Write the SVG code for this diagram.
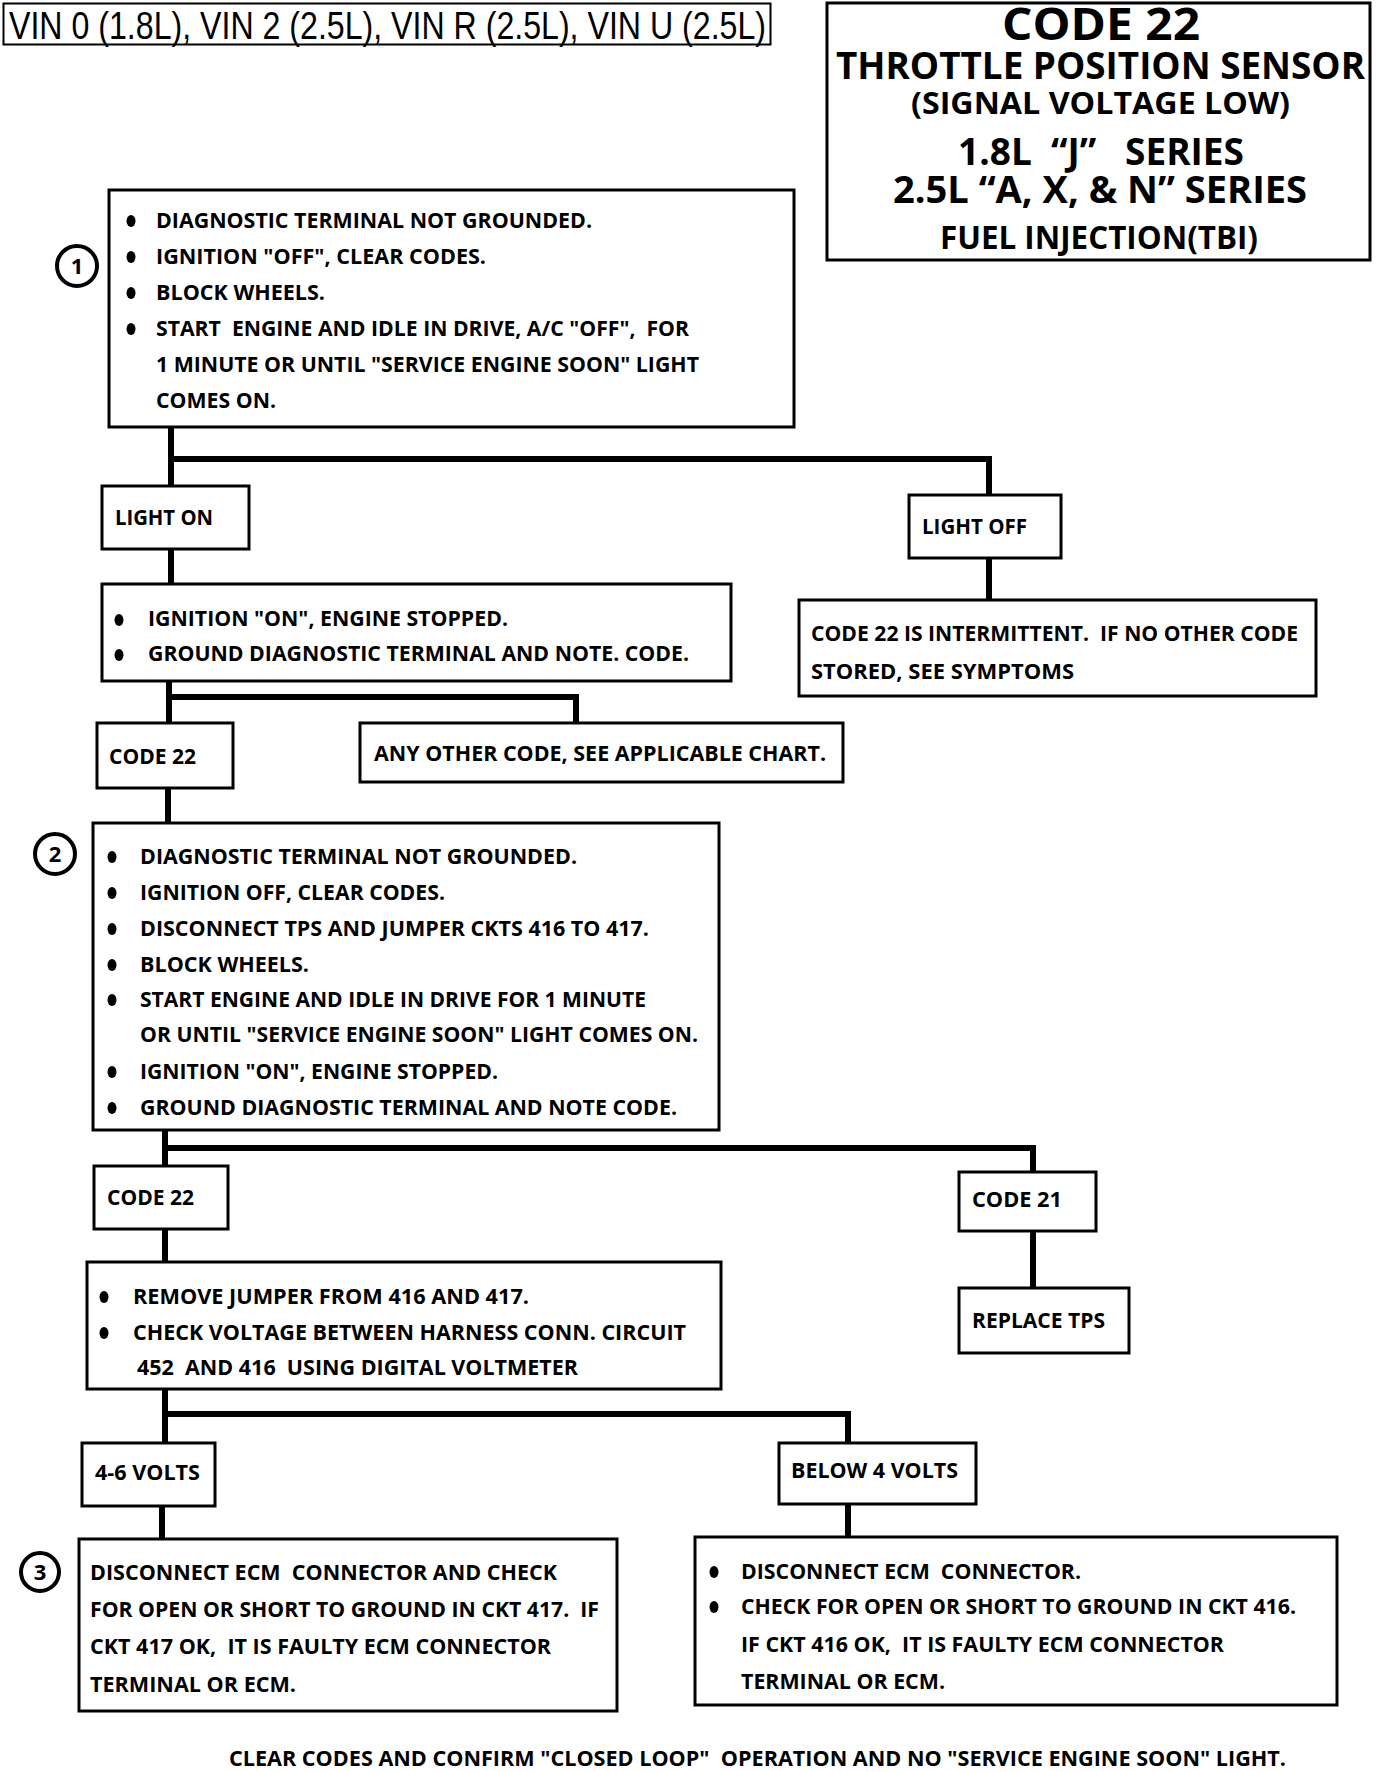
<svg xmlns="http://www.w3.org/2000/svg" width="1392" height="1772" viewBox="0 0 1392 1772">
<style>
.box{fill:#fff;stroke:#000;stroke-width:3}
.t{font-family:"Open Sans","DejaVu Sans",sans-serif;font-weight:bold;font-size:22px;fill:#000;white-space:pre}
.h{font-family:"Open Sans","DejaVu Sans",sans-serif;font-weight:bold;fill:#000;white-space:pre}
.vin{font-family:"Liberation Sans",Arial,sans-serif;font-size:39px;fill:#000}
.conn{stroke:#000;stroke-width:6;fill:none;stroke-linecap:square}
.dot{fill:#000}
.num{fill:#fff;stroke:#000;stroke-width:4}
</style>
<rect width="1392" height="1772" fill="#fff"/>

<g id="connectors">
<path class="conn" d="M171 427 V486 M171 459 H989 V495"/>
<path class="conn" d="M171 549 V584 M989 558 V600"/>
<path class="conn" d="M169 681 V723 M169 697 H576 V723"/>
<path class="conn" d="M168 788 V823"/>
<path class="conn" d="M165 1130 V1166 M165 1148 H1033 V1172"/>
<path class="conn" d="M165 1229 V1262 M1033 1231 V1288"/>
<path class="conn" d="M165 1389 V1443 M165 1414 H848 V1443"/>
<path class="conn" d="M162 1506 V1539 M848 1504 V1537"/>
</g>

<g id="vin-header">
<rect x="3.5" y="3.5" width="767" height="41" fill="#fff" stroke="#000" stroke-width="2"/>
<text class="vin" x="9" y="39" textLength="757" lengthAdjust="spacingAndGlyphs">VIN 0 (1.8L), VIN 2 (2.5L), VIN R (2.5L), VIN U (2.5L)</text>
</g>

<g id="title">
<rect x="827" y="3" width="543" height="257" class="box"/>
<text class="h" x="1002" y="40" font-size="44" textLength="198" lengthAdjust="spacingAndGlyphs">CODE 22</text>
<text class="h" x="836" y="79" font-size="37" textLength="529" lengthAdjust="spacingAndGlyphs">THROTTLE POSITION SENSOR</text>
<text class="h" x="911" y="114" font-size="31" textLength="379" lengthAdjust="spacingAndGlyphs">(SIGNAL VOLTAGE LOW)</text>
<text class="h" x="958" y="165" font-size="37" textLength="286" lengthAdjust="spacingAndGlyphs">1.8L  “J”   SERIES</text>
<text class="h" x="893" y="203" font-size="37" textLength="414" lengthAdjust="spacingAndGlyphs">2.5L “A, X, &amp; N” SERIES</text>
<text class="h" x="940" y="249" font-size="33" textLength="318" lengthAdjust="spacingAndGlyphs">FUEL INJECTION(TBI)</text>
</g>

<g id="step1">
<circle class="num" cx="77" cy="266" r="20"/>
<text class="t" x="77" y="274" text-anchor="middle">1</text>
<rect x="109" y="190" width="685" height="237" class="box"/>
<ellipse class="dot" cx="131" cy="221" rx="4.5" ry="6"/>
<ellipse class="dot" cx="131" cy="257" rx="4.5" ry="6"/>
<ellipse class="dot" cx="131" cy="293" rx="4.5" ry="6"/>
<ellipse class="dot" cx="131" cy="329" rx="4.5" ry="6"/>
<text class="t" x="156" y="228" textLength="436" lengthAdjust="spacingAndGlyphs">DIAGNOSTIC TERMINAL NOT GROUNDED.</text>
<text class="t" x="156" y="264" textLength="330" lengthAdjust="spacingAndGlyphs">IGNITION "OFF", CLEAR CODES.</text>
<text class="t" x="156" y="300" textLength="169" lengthAdjust="spacingAndGlyphs">BLOCK WHEELS.</text>
<text class="t" x="156" y="336" textLength="533" lengthAdjust="spacingAndGlyphs">START  ENGINE AND IDLE IN DRIVE, A/C "OFF",  FOR</text>
<text class="t" x="156" y="372" textLength="543" lengthAdjust="spacingAndGlyphs">1 MINUTE OR UNTIL "SERVICE ENGINE SOON" LIGHT</text>
<text class="t" x="156" y="408" textLength="120" lengthAdjust="spacingAndGlyphs">COMES ON.</text>
</g>

<g id="light-on">
<rect x="102" y="486" width="147" height="63" class="box"/>
<text class="t" x="115" y="525" textLength="98" lengthAdjust="spacingAndGlyphs">LIGHT ON</text>
</g>

<g id="light-off">
<rect x="909" y="495" width="152" height="63" class="box"/>
<text class="t" x="922" y="534" textLength="105" lengthAdjust="spacingAndGlyphs">LIGHT OFF</text>
</g>

<g id="ignition-on">
<rect x="102" y="584" width="629" height="97" class="box"/>
<ellipse class="dot" cx="119" cy="620" rx="4.5" ry="6"/>
<ellipse class="dot" cx="119" cy="655" rx="4.5" ry="6"/>
<text class="t" x="148" y="626" textLength="360" lengthAdjust="spacingAndGlyphs">IGNITION "ON", ENGINE STOPPED.</text>
<text class="t" x="148" y="661" textLength="541" lengthAdjust="spacingAndGlyphs">GROUND DIAGNOSTIC TERMINAL AND NOTE. CODE.</text>
</g>

<g id="intermittent">
<rect x="799" y="600" width="517" height="96" class="box"/>
<text class="t" x="811" y="641" textLength="487" lengthAdjust="spacingAndGlyphs">CODE 22 IS INTERMITTENT.  IF NO OTHER CODE</text>
<text class="t" x="811" y="679" textLength="263" lengthAdjust="spacingAndGlyphs">STORED, SEE SYMPTOMS</text>
</g>

<g id="code22-a">
<rect x="97" y="723" width="136" height="65" class="box"/>
<text class="t" x="109" y="764" textLength="87" lengthAdjust="spacingAndGlyphs">CODE 22</text>
</g>

<g id="other-code">
<rect x="360" y="723" width="483" height="59" class="box"/>
<text class="t" x="374" y="761" textLength="452" lengthAdjust="spacingAndGlyphs">ANY OTHER CODE, SEE APPLICABLE CHART.</text>
</g>

<g id="step2">
<circle class="num" cx="55" cy="854" r="20"/>
<text class="t" x="55" y="862" text-anchor="middle">2</text>
<rect x="93" y="823" width="626" height="307" class="box"/>
<ellipse class="dot" cx="112" cy="857" rx="4.5" ry="6"/>
<ellipse class="dot" cx="112" cy="893" rx="4.5" ry="6"/>
<ellipse class="dot" cx="112" cy="929" rx="4.5" ry="6"/>
<ellipse class="dot" cx="112" cy="965" rx="4.5" ry="6"/>
<ellipse class="dot" cx="112" cy="1000" rx="4.5" ry="6"/>
<ellipse class="dot" cx="112" cy="1072" rx="4.5" ry="6"/>
<ellipse class="dot" cx="112" cy="1108" rx="4.5" ry="6"/>
<text class="t" x="140" y="864" textLength="437" lengthAdjust="spacingAndGlyphs">DIAGNOSTIC TERMINAL NOT GROUNDED.</text>
<text class="t" x="140" y="900" textLength="305" lengthAdjust="spacingAndGlyphs">IGNITION OFF, CLEAR CODES.</text>
<text class="t" x="140" y="936" textLength="509" lengthAdjust="spacingAndGlyphs">DISCONNECT TPS AND JUMPER CKTS 416 TO 417.</text>
<text class="t" x="140" y="972" textLength="169" lengthAdjust="spacingAndGlyphs">BLOCK WHEELS.</text>
<text class="t" x="140" y="1007" textLength="506" lengthAdjust="spacingAndGlyphs">START ENGINE AND IDLE IN DRIVE FOR 1 MINUTE</text>
<text class="t" x="140" y="1042" textLength="558" lengthAdjust="spacingAndGlyphs">OR UNTIL "SERVICE ENGINE SOON" LIGHT COMES ON.</text>
<text class="t" x="140" y="1079" textLength="358" lengthAdjust="spacingAndGlyphs">IGNITION "ON", ENGINE STOPPED.</text>
<text class="t" x="140" y="1115" textLength="537" lengthAdjust="spacingAndGlyphs">GROUND DIAGNOSTIC TERMINAL AND NOTE CODE.</text>
</g>

<g id="code22-b">
<rect x="94" y="1166" width="134" height="63" class="box"/>
<text class="t" x="107" y="1205" textLength="87" lengthAdjust="spacingAndGlyphs">CODE 22</text>
</g>

<g id="code21">
<rect x="959" y="1172" width="137" height="59" class="box"/>
<text class="t" x="972" y="1207" textLength="90" lengthAdjust="spacingAndGlyphs">CODE 21</text>
</g>

<g id="replace-tps">
<rect x="959" y="1288" width="170" height="65" class="box"/>
<text class="t" x="972" y="1328" textLength="133" lengthAdjust="spacingAndGlyphs">REPLACE TPS</text>
</g>

<g id="check-voltage">
<rect x="87" y="1262" width="634" height="127" class="box"/>
<ellipse class="dot" cx="104" cy="1297" rx="4.5" ry="6"/>
<ellipse class="dot" cx="104" cy="1333" rx="4.5" ry="6"/>
<text class="t" x="133" y="1304" textLength="396" lengthAdjust="spacingAndGlyphs">REMOVE JUMPER FROM 416 AND 417.</text>
<text class="t" x="133" y="1340" textLength="553" lengthAdjust="spacingAndGlyphs">CHECK VOLTAGE BETWEEN HARNESS CONN. CIRCUIT</text>
<text class="t" x="137" y="1375" textLength="441" lengthAdjust="spacingAndGlyphs">452  AND 416  USING DIGITAL VOLTMETER</text>
</g>

<g id="volts-4-6">
<rect x="82" y="1443" width="133" height="63" class="box"/>
<text class="t" x="95" y="1480" textLength="105" lengthAdjust="spacingAndGlyphs">4-6 VOLTS</text>
</g>

<g id="below-4">
<rect x="779" y="1443" width="197" height="61" class="box"/>
<text class="t" x="791" y="1478" textLength="167" lengthAdjust="spacingAndGlyphs">BELOW 4 VOLTS</text>
</g>

<g id="step3">
<circle class="num" cx="40" cy="1572" r="19"/>
<text class="t" x="40" y="1580" text-anchor="middle">3</text>
<rect x="79" y="1539" width="538" height="172" class="box"/>
<text class="t" x="90" y="1580" textLength="467" lengthAdjust="spacingAndGlyphs">DISCONNECT ECM  CONNECTOR AND CHECK</text>
<text class="t" x="90" y="1617" textLength="509" lengthAdjust="spacingAndGlyphs">FOR OPEN OR SHORT TO GROUND IN CKT 417.  IF</text>
<text class="t" x="90" y="1654" textLength="461" lengthAdjust="spacingAndGlyphs">CKT 417 OK,  IT IS FAULTY ECM CONNECTOR</text>
<text class="t" x="90" y="1692" textLength="206" lengthAdjust="spacingAndGlyphs">TERMINAL OR ECM.</text>
</g>

<g id="check-416">
<rect x="695" y="1537" width="642" height="168" class="box"/>
<ellipse class="dot" cx="714" cy="1572" rx="4.5" ry="6"/>
<ellipse class="dot" cx="714" cy="1607" rx="4.5" ry="6"/>
<text class="t" x="741" y="1579" textLength="340" lengthAdjust="spacingAndGlyphs">DISCONNECT ECM  CONNECTOR.</text>
<text class="t" x="741" y="1614" textLength="555" lengthAdjust="spacingAndGlyphs">CHECK FOR OPEN OR SHORT TO GROUND IN CKT 416.</text>
<text class="t" x="741" y="1652" textLength="483" lengthAdjust="spacingAndGlyphs">IF CKT 416 OK,  IT IS FAULTY ECM CONNECTOR</text>
<text class="t" x="741" y="1689" textLength="204" lengthAdjust="spacingAndGlyphs">TERMINAL OR ECM.</text>
</g>

<g id="footer">
<text class="t" x="229" y="1766" textLength="1057" lengthAdjust="spacingAndGlyphs">CLEAR CODES AND CONFIRM "CLOSED LOOP"  OPERATION AND NO "SERVICE ENGINE SOON" LIGHT.</text>
</g>
</svg>
